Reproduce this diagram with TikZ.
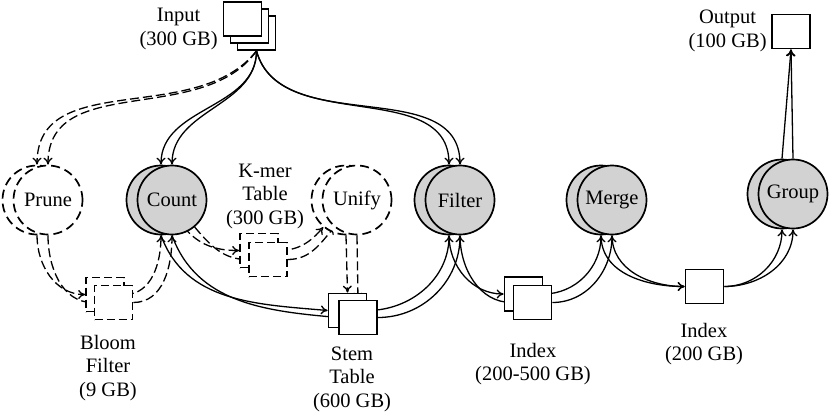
\documentclass[tikz,border=0pt]{standalone}
\usepackage{fontspec}
\setmainfont{Liberation Serif}
\usetikzlibrary{arrows.meta, backgrounds}

\begin{document}
\begin{tikzpicture}[
    x=0.5pt, y=-0.5pt,
    font=\fontsize{10.25}{11.75}\selectfont,
    task/.style={circle, draw, line width=0.85pt, fill=gray!35, minimum size=34.5pt, inner sep=0pt},
    opttask/.style={task, fill=white, dash pattern=on 4.5pt off 2.5pt},
    data/.style={rectangle, draw, line width=0.85pt, fill=white, minimum width=19pt, minimum height=17pt, inner sep=0pt},
    optdata/.style={data, dash pattern=on 4pt off 2pt},
    note/.style={align=center, inner sep=0pt},
    flow/.style={-{To[length=3.5pt, width=4.5pt]}, line width=0.65pt},
    optflow/.style={flow, dash pattern=on 4.5pt off 2pt},
]
\useasboundingbox (0,0) rectangle (830,413);

% Tasks
\node[opttask] (prune0) at (37,200) {};
\node[opttask] (prune1) at (48,200) {Prune};
\node[task] (count0) at (161,200) {};
\node[task] (count1) at (172,200) {Count};
\node[opttask] (unify0) at (346,200) {};
\node[opttask] (unify1) at (357,200) {Unify};
\node[task] (filter0) at (449,200) {};
\node[task] (filter1) at (460,200) {Filter};
\node[task] (merge0) at (601,200) {};
\node[task] (merge1) at (612,200) {Merge};
\node[task] (group0) at (782,194) {};
\node[task] (group1) at (793,194) {Group};

% Data sets
\node[data] (input0) at (256.5,33) {};
\node[data] (input1) at (249.5,26) {};
\node[data] (input2) at (242.5,19) {};
\node[data] (output) at (791,31.5) {};
\node[optdata] (bloom0) at (105,294.5) {};
\node[optdata] (bloom1) at (113.5,302.5) {};
\node[optdata] (kmer0) at (259,250.5) {};
\node[optdata] (kmer1) at (268,259.5) {};
\node[data] (stem0) at (347.5,310.5) {};
\node[data] (stem1) at (358,317.5) {};
\node[data] (index0) at (523.5,294) {};
\node[data] (index1) at (532.5,302.5) {};
\node[data] (index2) at (704.5,286.5) {};

% Labels
\node[note, anchor=east] (inputlbl) at (218,29) {Input\\(300 GB)};
\node[note, anchor=east] (outputlbl) at (767,31) {Output\\(100 GB)};
\node[note] (kmerlbl) at (265,196) {K-mer\\Table\\(300 GB)};
\node[note] (bloomlbl) at (108,368) {Bloom\\Filter\\(9 GB)};
\node[note] (stemlbl) at (352,379) {Stem\\Table\\(600 GB)};
\node[note] (index1lbl) at (533,364) {Index\\(200-500 GB)};
\node[note] (index2lbl) at (704,344) {Index\\(200 GB)};

% Flows
\begin{scope}[on background layer]
\draw[optflow] (input0.south) to[out=-128, in=90] (prune0.north);
\draw[optflow] (input0.south) to[out=-125, in=90] (prune1.north);
\draw[flow] (input0.south) to[out=-90, in=90] (count0.north);
\draw[flow] (input0.south) to[out=-90, in=90] (count1.north);
\draw[flow] (input0.south) to[out=-75, in=90] (filter0.north);
\draw[flow] (input0.south) to[out=-75, in=90] (filter1.north);
\draw[optflow] (prune0.south) to[out=-90, in=180] (bloom0.west);
\draw[optflow] (prune1.south) to[out=-90, in=180] (bloom1.west);
\draw[optflow] (bloom0.east) to[out=0, in=-90] (count0.south);
\draw[optflow] (bloom1.east) to[out=0, in=-90] (count1.south);
\draw[optflow] (count0.-50) to[out=-50, in=180] (kmer0.west);
\draw[optflow] (count1.-50) to[out=-50, in=180] (kmer1.west);
\draw[optflow] (kmer0.east) to[out=0, in=-130] (unify0.-130);
\draw[optflow] (kmer1.east) to[out=0, in=-130] (unify1.-130);
\draw[optflow] (unify0.south) -- (stem0.north);
\draw[optflow] (unify1.south) -- (stem1.north);
\draw[flow] (count0.south) to[out=-70, in=175] (stem0.west);
\draw[flow] (count1.south) to[out=-70, in=175] (stem1.west);
\draw[flow] (stem0.east) to[out=0, in=-90] (filter0.south);
\draw[flow] (stem1.east) to[out=0, in=-90] (filter1.south);
\draw[flow] (filter0.south) to[out=-90, in=180] (index0.west);
\draw[flow] (filter1.south) to[out=-90, in=180] (index1.west);
\draw[flow] (index0.east) to[out=0, in=-90] (merge0.south);
\draw[flow] (index1.east) to[out=0, in=-90] (merge1.south);
\draw[flow] (merge0.south) to[out=-90, in=180] (index2.west);
\draw[flow] (merge1.south) to[out=-90, in=180] (index2.west);
\draw[flow] (index2.east) to[out=0, in=-90] (group0.south);
\draw[flow] (index2.east) to[out=0, in=-90] (group1.south);
\draw[flow] (group0.north) -- (output.south);
\draw[flow] (group1.north) -- (output.south);
\end{scope}

\end{tikzpicture}
\end{document}
